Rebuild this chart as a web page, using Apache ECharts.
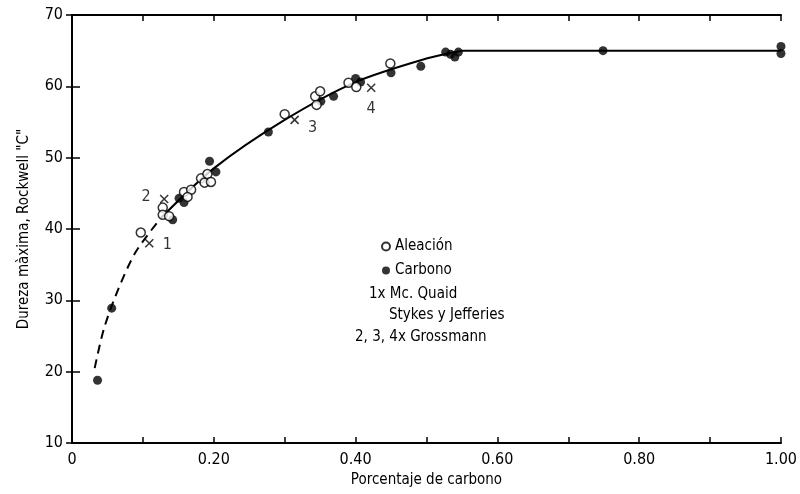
<!DOCTYPE html>
<html>
<head>
<meta charset="utf-8">
<script src="https://cdn.jsdelivr.net/npm/echarts@6/dist/echarts.min.js"></script>
<style>
  html, body { margin: 0; padding: 0; background: #fff; }
  #chart { width: 800px; height: 494px; }
</style>
</head>
<body>
<div id="chart"></div>
<script>
// ticks
const xTicks = [0, 0.2, 0.4, 0.6, 0.8, 1.0]
const yTicks = [10, 20, 30, 40, 50, 60, 70]

// data: [carbon %, hardness HRC]
const aleacion = [
  [0.097, 39.5], [0.128, 43.0], [0.128, 42.0], [0.137, 41.8], [0.158, 45.2],
  [0.168, 45.5], [0.163, 44.5], [0.182, 47.1], [0.191, 47.7], [0.187, 46.5],
  [0.196, 46.6], [0.300, 56.1], [0.343, 58.6], [0.350, 59.3], [0.345, 57.4],
  [0.390, 60.5], [0.401, 59.9], [0.449, 63.2]
]
const carbono = [
  [0.036, 18.8], [0.056, 28.9], [0.142, 41.3], [0.151, 44.3], [0.158, 43.7],
  [0.194, 49.5], [0.203, 48.0], [0.277, 53.6], [0.351, 57.9], [0.369, 58.6],
  [0.400, 61.1], [0.407, 60.6], [0.450, 61.9], [0.492, 62.8], [0.527, 64.8],
  [0.534, 64.5], [0.540, 64.1], [0.545, 64.8], [0.749, 65.0], [1.0, 65.6],
  [1.0, 64.6]
]
const cruces = [[0.109, 38.0], [0.130, 44.2], [0.314, 55.3], [0.422, 59.8]]
const cruceLabels = ['1', '2', '3', '4']
const curvaDashed = [
  [0.032, 20.5], [0.045, 26], [0.065, 31.5], [0.09, 36.8], [0.125, 41.5]
]
const curvaSolid = [
  [0.125, 41.5], [0.2, 48.5], [0.3, 55.3], [0.4, 60.6], [0.5, 63.9], [0.55, 65]
]
const curvaFlat = [[0.55, 65], [1.0, 65]]

const FONT = "'Liberation Sans Narrow', 'DejaVu Sans Condensed', sans-serif"
const crossPath = 'path://M0,0 L10,10 M10,0 L0,10'
const labelPos = ['right', 'left', 'right', 'bottom']
const labelOffset = [[2, 2], [-2, -2], [2, 8], [0, 2]]

const chart = echarts.init(document.getElementById('chart'))

const axisLine = { show: true, lineStyle: { color: '#000', width: 2 } }

const option = {
  animation: false,
  textStyle: { fontFamily: FONT, color: '#000' },
  grid: { left: 72, right: 15, top: 15, bottom: 51 },
  legend: {
    orient: 'vertical',
    left: 376,
    top: 234,
    itemWidth: 8,
    itemHeight: 8,
    itemGap: 9,
    textStyle: { fontFamily: FONT, fontSize: 15, color: '#000' },
    data: [
      { name: 'Aleación', icon: 'circle' },
      { name: 'Carbono', icon: 'circle' }
    ]
  },
  xAxis: [
    {
      type: 'value', min: 0, max: 1, interval: 0.2,
      name: 'Porcentaje de carbono', nameLocation: 'middle', nameGap: 30,
      nameTextStyle: { fontSize: 15, fontFamily: FONT, color: '#000' },
      axisLine,
      axisTick: { inside: true, length: 6, lineStyle: { color: '#000', width: 1.5 } },
      minorTick: { show: true, splitNumber: 2, length: 6, lineStyle: { color: '#000', width: 1.5 } },
      splitLine: { show: false },
      axisLabel: {
        fontSize: 16, color: '#000', margin: 9,
        formatter: v => (v === 0 ? '0' : v.toFixed(2))
      }
    },
    {
      type: 'value', min: 0, max: 1, interval: 0.1, position: 'top',
      axisLine,
      axisTick: { inside: true, length: 6, lineStyle: { color: '#000', width: 1.5 } },
      axisLabel: { show: false },
      splitLine: { show: false }
    }
  ],
  yAxis: [
    {
      type: 'value', min: 10, max: 70, interval: 10,
      name: 'Dureza màxima, Rockwell "C"', nameLocation: 'middle', nameGap: 40,
      nameTextStyle: { fontSize: 15, fontFamily: FONT, color: '#000' },
      axisLine,
      axisTick: { inside: true, length: 8, lineStyle: { color: '#000', width: 1.5 } },
      splitLine: { show: false },
      axisLabel: { fontSize: 16, color: '#000', margin: 9 }
    },
    {
      type: 'value', min: 10, max: 70, interval: 10, position: 'right',
      axisLine,
      axisTick: { inside: true, length: 6, lineStyle: { color: '#000', width: 1.5 } },
      axisLabel: { show: false },
      splitLine: { show: false }
    }
  ],
  graphic: [
    { type: 'text', left: 369, top: 287, style: { text: '1x Mc. Quaid', font: '15px ' + FONT, fill: '#000' } },
    { type: 'text', left: 389, top: 308, style: { text: 'Stykes y Jefferies', font: '15px ' + FONT, fill: '#000' } },
    { type: 'text', left: 355, top: 330, style: { text: '2, 3, 4x Grossmann', font: '15px ' + FONT, fill: '#000' } }
  ],
  series: [
    {
      type: 'line', data: curvaDashed, smooth: 0.3, symbol: 'none',
      lineStyle: { color: '#000', width: 2, type: [9, 6] }, silent: true
    },
    {
      type: 'line', data: curvaSolid, smooth: 0.3, symbol: 'none',
      lineStyle: { color: '#000', width: 2 }, silent: true
    },
    {
      type: 'line', data: curvaFlat, symbol: 'none',
      lineStyle: { color: '#000', width: 2 }, silent: true
    },
    {
      name: 'Aleación', type: 'scatter', data: aleacion, symbol: 'circle', symbolSize: 9,
      itemStyle: { color: '#fff', borderColor: '#000', borderWidth: 1.5 }, z: 4
    },
    {
      name: 'Carbono', type: 'scatter', data: carbono, symbol: 'circle', symbolSize: 9,
      itemStyle: { color: '#000' }, z: 3
    },
    {
      type: 'scatter', symbol: crossPath, symbolSize: 8,
      itemStyle: { color: 'none', borderColor: '#000', borderWidth: 1.5 }, z: 5,
      data: cruces.map((p, i) => ({
        value: p,
        label: {
          show: true, formatter: cruceLabels[i], position: labelPos[i],
          offset: labelOffset[i], fontSize: 16, fontFamily: FONT, color: '#000'
        }
      }))
    }
  ]
}

chart.setOption(option)
</script>
</body>
</html>
